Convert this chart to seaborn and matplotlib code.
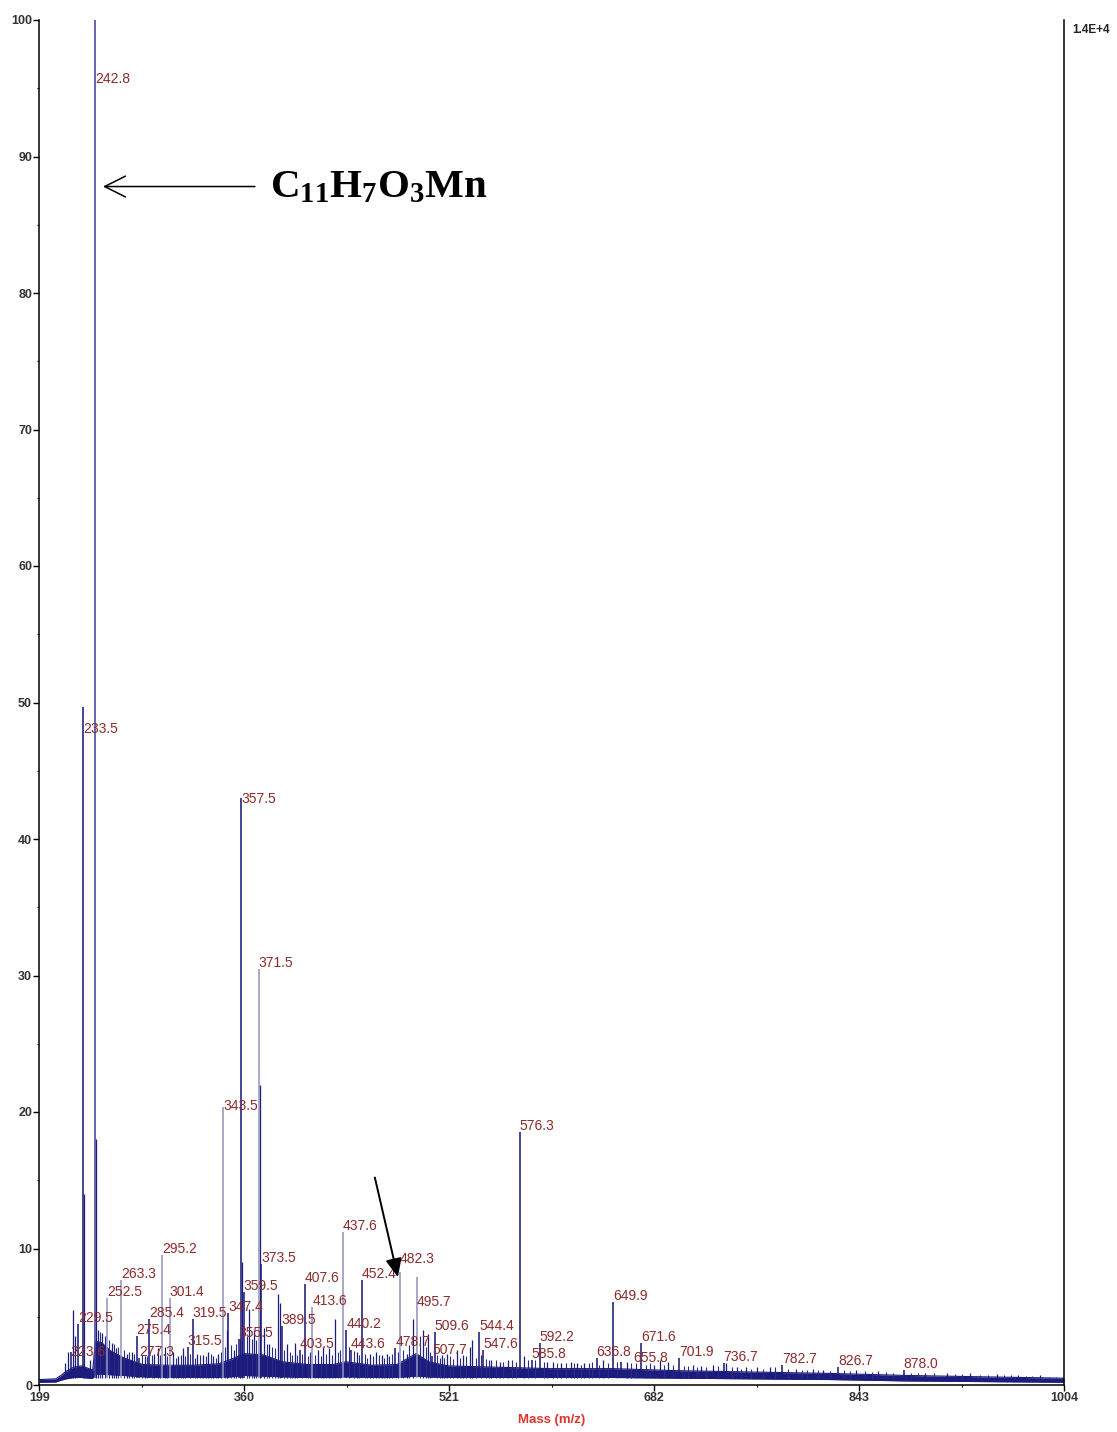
import matplotlib
matplotlib.use("Agg")
import matplotlib.pyplot as plt
import seaborn as sns
import pandas as pd
from matplotlib.ticker import FixedLocator, MultipleLocator

# Labelled peaks: m/z and relative intensity (%)
labelled_mz = [223.6, 229.5, 233.5, 242.8, 252.5, 263.3, 275.4, 277.3, 285.4, 295.2,
               301.4, 315.5, 319.5, 343.5, 347.4, 355.5, 357.5, 359.5, 371.5, 373.5,
               389.5, 403.5, 407.6, 413.6, 437.6, 440.2, 443.6, 452.4, 478.7, 482.3,
               495.7, 507.7, 509.6, 544.4, 547.6, 576.3, 585.8, 592.2, 636.8, 649.9,
               655.8, 671.6, 701.9, 736.7, 782.7, 826.7, 878.0]
labelled_int = [2.4, 4.5, 49.7, 100.0, 6.4, 7.7, 3.6, 2.0, 4.8, 9.5,
                6.4, 2.8, 4.8, 20.4, 5.3, 3.4, 43.0, 6.8, 30.5, 8.9,
                4.3, 2.6, 7.4, 5.7, 11.2, 4.0, 2.6, 7.7, 2.7, 8.3,
                7.9, 2.1, 3.9, 3.9, 2.6, 18.5, 1.8, 3.1, 2.0, 6.1,
                1.7, 3.1, 2.0, 1.6, 1.5, 1.3, 1.1]

# Unlabelled peaks
minor_mz = [219.0, 221.2, 225.2, 227.0, 234.4, 238.8, 243.8, 245.3, 248.0, 255.9,
            259.2, 267.6, 271.5, 282.0, 289.0, 292.0, 297.7, 304.3, 308.2, 311.6,
            322.6, 327.8, 331.7, 335.6, 339.6, 346.2, 351.9, 358.6, 363.9, 367.8,
            372.4, 375.7, 379.5, 386.4, 388.4, 393.5, 399.8, 418.1, 422.0, 426.7,
            431.2, 448.2, 458.7, 463.9, 468.0, 471.8, 487.5, 492.7, 500.5, 504.5,
            515.0, 519.0, 526.8, 532.0, 537.2, 539.3, 554.2, 560.8, 567.3, 579.7,
            598.0, 602.3, 608.9, 616.7, 621.5, 627.2, 642.0, 660.5, 682.0, 686.4,
            693.0, 712.6, 719.0, 728.3, 738.8, 747.0, 754.5, 763.0, 772.8, 793.8,
            806.8, 815.0, 840.8, 858.0, 895.0, 912.0, 930.0, 951.0, 968.0, 985.0]
minor_int = [1.6, 2.4, 5.5, 3.6, 14.0, 1.8, 18.0, 4.0, 3.8, 3.1,
             2.7, 2.3, 2.4, 2.1, 2.3, 2.7, 2.8, 2.4, 2.1, 2.7,
             2.3, 2.2, 2.4, 2.1, 2.3, 4.0, 2.6, 9.0, 5.6, 4.0,
             22.0, 4.2, 3.0, 6.7, 6.0, 3.0, 3.1, 2.6, 2.8, 2.7,
             4.8, 2.4, 2.3, 2.4, 2.2, 2.3, 2.3, 4.8, 4.0, 3.7,
             2.2, 2.3, 2.6, 2.2, 2.8, 3.3, 1.8, 1.7, 1.8, 2.1,
             1.7, 1.7, 1.6, 1.7, 1.6, 1.6, 1.8, 1.7, 1.5, 1.8,
             1.7, 1.5, 1.4, 1.5, 1.6, 1.3, 1.3, 1.3, 1.3, 1.2,
             1.2, 1.1, 1.1, 1.0, 0.9, 0.9, 0.85, 0.8, 0.75, 0.7]

# Small noise spikes riding on the floor
grass_mz = [246.5, 250.3, 253.8, 257.6, 261.0, 265.5, 269.4, 273.6, 279.6, 284.0,
            287.2, 294.0, 299.6, 306.5, 310.0, 313.6, 317.6, 321.0, 325.0, 329.7,
            333.6, 337.5, 341.6, 344.8, 349.7, 353.6, 356.4, 361.8, 365.8, 369.6,
            377.8, 381.6, 383.8, 391.5, 395.8, 397.6, 401.7, 405.6, 409.7, 411.5,
            415.8, 420.0, 424.5, 428.8, 433.5, 435.6, 442.0, 446.0, 450.3, 454.6,
            456.5, 461.0, 466.0, 470.0, 474.0, 476.2, 480.5, 484.6, 489.8, 497.8,
            502.5, 506.2, 511.8, 513.5, 517.0, 521.5, 523.8, 529.5, 534.5, 542.0,
            545.8, 550.0, 552.0, 557.5, 563.5, 570.0, 573.5, 583.0, 588.5, 595.5,
            605.5, 612.5, 619.0, 624.5, 630.5, 633.5, 639.0, 645.5, 652.5, 664.0,
            668.0, 675.5, 679.0, 689.5, 697.0, 705.5, 709.0, 716.0, 722.5, 732.0,
            743.0, 750.5, 758.5, 767.5, 777.0, 787.5, 798.5, 802.0, 811.0, 820.5,
            831.5, 836.0, 848.0, 853.0, 864.0, 870.0, 884.0, 889.0, 902.0, 918.0,
            924.0, 938.0, 944.0, 957.0, 962.0, 974.0, 979.0, 992.0, 998.0]
grass_int = [3.9, 3.6, 3.3, 3.0, 2.8, 2.6, 2.4, 2.3, 2.2, 2.1,
             2.2, 2.2, 2.1, 2.0, 2.2, 2.1, 2.3, 2.0, 2.2, 2.1,
             2.3, 2.0, 2.4, 2.8, 2.9, 3.0, 3.4, 3.6, 3.4, 3.3,
             3.0, 2.8, 2.7, 2.6, 2.4, 2.2, 2.2, 2.3, 2.1, 2.4,
             2.2, 2.1, 2.3, 2.2, 2.4, 2.6, 2.8, 2.5, 2.2, 2.3,
             2.0, 2.1, 2.2, 2.0, 2.1, 2.3, 2.4, 2.6, 2.9, 3.6,
             2.8, 2.4, 2.2, 2.0, 2.0, 2.1, 1.9, 2.0, 2.1, 2.0,
             2.2, 1.9, 1.8, 1.8, 1.7, 1.8, 1.7, 1.8, 1.8, 1.7,
             1.6, 1.6, 1.6, 1.5, 1.6, 1.7, 1.5, 1.6, 1.7, 1.6,
             1.6, 1.5, 1.6, 1.5, 1.5, 1.4, 1.4, 1.3, 1.3, 1.4,
             1.3, 1.2, 1.2, 1.2, 1.3, 1.2, 1.1, 1.1, 1.1, 1.0,
             1.1, 1.0, 1.0, 0.95, 0.95, 0.9, 0.9, 0.85, 0.85, 0.8,
             0.8, 0.75, 0.75, 0.7, 0.7, 0.65, 0.65, 0.6, 0.6]

# Noise floor envelope of the trace
band_mz = [199, 212, 216, 220, 226, 232, 238, 241, 243, 248, 255, 265, 280, 300, 320,
           340, 350, 360, 375, 390, 410, 430, 440, 460, 480, 495, 505, 520, 560, 600,
           650, 700, 760, 820, 880, 940, 1004]
band_low = [0.20, 0.22, 0.35, 0.45, 0.55, 0.55, 0.50, 0.50, 0.80, 0.80, 0.75, 0.70, 0.60,
            0.55, 0.55, 0.55, 0.60, 0.70, 0.65, 0.60, 0.55, 0.55, 0.60, 0.55, 0.55, 0.65,
            0.60, 0.55, 0.55, 0.55, 0.55, 0.50, 0.45, 0.40, 0.30, 0.25, 0.20]
band_high = [0.40, 0.45, 0.70, 1.00, 1.30, 1.40, 1.20, 1.10, 3.20, 3.10, 2.50, 2.00, 1.50,
             1.45, 1.45, 1.55, 1.90, 2.30, 2.20, 1.70, 1.50, 1.50, 1.70, 1.45, 1.50, 2.30,
             1.70, 1.40, 1.30, 1.20, 1.20, 1.05, 0.95, 0.85, 0.70, 0.60, 0.50]

x_ticks = [199, 360, 521, 682, 843, 1004]
x_minor = [279.5, 440.5, 601.5, 762.5, 923.5]
y_ticks = [0, 10, 20, 30, 40, 50, 60, 70, 80, 90, 100]
scale_text = "1.4E+4"
x_title = "Mass (m/z)"
formula = r"$\mathbf{C_{11}H_7O_3Mn}$"

# ---- styling -------------------------------------------------------------
sns.set_theme(style="white")
plt.rcParams["font.family"] = ["Liberation Sans", "DejaVu Sans"]
plt.rcParams["mathtext.fontset"] = "custom"
plt.rcParams["mathtext.rm"] = "Liberation Serif"
plt.rcParams["mathtext.bf"] = "Liberation Serif:bold"
plt.rcParams["mathtext.it"] = "Liberation Serif:italic"

NAVY = "#1c1c7c"
GRASS = "#2a2a8a"
FAINT = "#9494bc"
MID = "#44449c"
LABEL = "#8c2b2b"
TICK = "#333333"
STICK_BASE = 0.5

faint_peaks = {252.5, 263.3, 295.2, 301.4, 343.5, 371.5, 413.6, 437.6, 482.3, 495.7}
mid_peaks = {242.8}
# label offsets in pixels (dx, dy) relative to the peak top; default sits just above
label_offsets = {242.8: (0, -63), 233.5: (0, -26), 357.5: (0, -5), 495.7: (0, -29),
                 482.3: (0, 9), 223.6: (0, -4), 343.5: (0, -3), 655.8: (12, 0)}

W, H = 1117, 1432
fig = plt.figure(figsize=(W / 100, H / 100), dpi=100)
fig.patch.set_facecolor("white")
ax = fig.add_axes([39.3 / W, 47 / H, (1064 - 39.3) / W, 1365 / H])
ax.set_facecolor("white")

# noise floor
env = pd.DataFrame({"mz": band_mz, "low": band_low, "high": band_high})
ax.fill_between(env["mz"], env["low"], env["high"], color=NAVY, lw=0, zorder=2)
sns.lineplot(data=env, x="mz", y="high", ax=ax, color=NAVY, lw=0.8, zorder=2)
sns.lineplot(data=env, x="mz", y="low", ax=ax, color=NAVY, lw=0.8, zorder=2)

# noise spikes and unlabelled peaks
ax.vlines(grass_mz, STICK_BASE, grass_int, color=GRASS, lw=0.8, zorder=3)
ax.vlines(minor_mz, STICK_BASE, minor_int, color=NAVY, lw=0.9, zorder=3)

# labelled peaks
for mz, inten in zip(labelled_mz, labelled_int):
    if mz in faint_peaks:
        c = FAINT
    elif mz in mid_peaks:
        c = MID
    else:
        c = NAVY
    ax.vlines(mz, STICK_BASE, inten, color=c, lw=1.15, zorder=4)
    dx, dy = label_offsets.get(mz, (0, 2))
    ax.annotate(f"{mz:.1f}", xy=(mz, inten), xytext=(dx, dy), textcoords="offset pixels",
                ha="left", va="baseline", fontsize=10, color=LABEL, zorder=5)

# axes
ax.set_xlim(199, 1004)
ax.set_ylim(0, 100)
ax.spines["top"].set_visible(False)
for side in ("left", "bottom", "right"):
    ax.spines[side].set_visible(True)
    ax.spines[side].set_color("black")
    ax.spines[side].set_linewidth(1.1)
ax.xaxis.set_major_locator(FixedLocator(x_ticks))
ax.xaxis.set_minor_locator(FixedLocator(x_minor))
ax.set_xticklabels([str(t) for t in x_ticks])
ax.yaxis.set_major_locator(FixedLocator(y_ticks))
ax.yaxis.set_minor_locator(MultipleLocator(5))
ax.set_yticklabels([str(t) for t in y_ticks])
ax.tick_params(axis="both", which="major", direction="out", length=4.2, width=1.0,
               color="black", labelsize=9, labelcolor=TICK, pad=1,
               bottom=True, left=True, right=False, top=False)
ax.tick_params(axis="both", which="minor", direction="out", length=1.5, width=0.8,
               color="black", bottom=True, left=True, right=False, top=False)
for lab in ax.get_xticklabels() + ax.get_yticklabels():
    lab.set_fontweight("bold")

ax.set_xlabel(x_title, color="#e2332b", fontweight="bold", fontsize=9.5)
ax.xaxis.set_label_coords(0.5, -35 / 1365)
ax.xaxis.label.set_va("center")
ax.set_ylabel("")
ax.grid(False)

fig.text(1072 / W, 1 - 30 / H, scale_text, ha="left", va="center", fontsize=8.5,
         fontweight="bold", color="#222222")

# formula callout pointing at the base peak
ax.annotate("", xy=(249.0, 87.8), xytext=(368.4, 87.8),
            arrowprops=dict(arrowstyle="->,head_length=1.0,head_width=0.5", color="black",
                            lw=1.1, shrinkA=0, shrinkB=0, mutation_scale=15), zorder=6)
ax.text(380.2, 87.0, formula, fontsize=29.5, color="black", ha="left", va="baseline", zorder=6)

# arrow marking the 482 peak
ax.annotate("", xy=(480.7, 7.9), xytext=(462.6, 15.2),
            arrowprops=dict(arrowstyle="-|>,head_length=0.8,head_width=0.35", color="black",
                            lw=1.4, shrinkA=0, shrinkB=0, mutation_scale=14), zorder=6)

fig.savefig("out.png", dpi=100, facecolor="white")
